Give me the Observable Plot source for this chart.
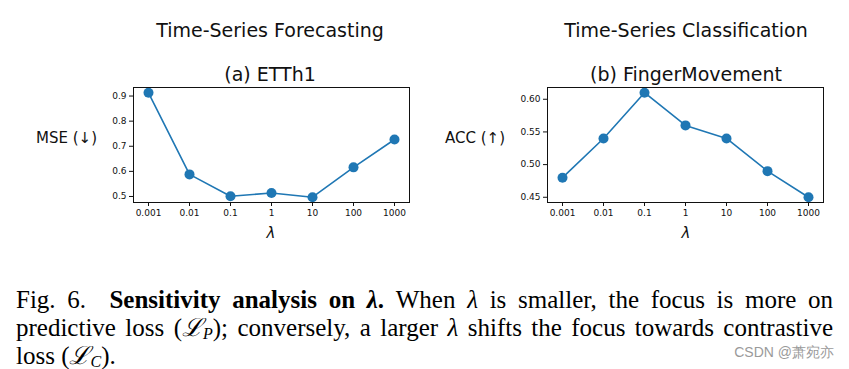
<!DOCTYPE html>
<html>
<head>
<meta charset="utf-8">
<script src="https://cdn.jsdelivr.net/npm/d3@7"></script>
<script src="https://cdn.jsdelivr.net/npm/@observablehq/plot@0.6"></script>
<style>
  html, body { margin: 0; padding: 0; background: #fff; }
  body { width: 849px; height: 369px; position: relative; overflow: hidden; font-family: "DejaVu Sans", sans-serif; }
  .abs { position: absolute; white-space: nowrap; color: #111; }
  .title { font-size: 19px; transform: translate(-50%, -50%); }
  .ylab { font-size: 15px; transform: translateY(-50%); }
  .xlab { font-size: 15px; font-style: italic; transform: translate(-50%, -50%); }
  .panel { position: absolute; }
  .caption { position: absolute; left: 16px; width: 817px; top: 286px; font-family: "Liberation Serif", "Times New Roman", serif; font-size: 25px; line-height: 28px; color: #000; }
  .caption .ln { white-space: nowrap; text-align: justify; text-align-last: justify; height: 28px; }
  .caption .ln.last { text-align-last: left; }
  .cal { font-family: "DejaVu Serif", "Liberation Serif", serif; font-style: italic; }
  .sub { font-size: 16px; font-style: italic; position: relative; top: 3px; line-height: 0; }
  .wm { position: absolute; right: 15px; top: 344px; font-family: "Liberation Sans", Arial, sans-serif; font-size: 14px; color: #9a9a9a; white-space: nowrap; }
</style>
</head>
<body>
<script>
// ---- data ----
const lambdaLabels = ["0.001", "0.01", "0.1", "1", "10", "100", "1000"];
const mseETTh1 = [0.913, 0.588, 0.501, 0.514, 0.497, 0.616, 0.727];
const accFingerMovement = [0.48, 0.54, 0.61, 0.56, 0.54, 0.49, 0.45];
const mseTicks = [0.5, 0.6, 0.7, 0.8, 0.9];
const accTicks = [0.45, 0.50, 0.55, 0.60];

const blue = "#1f77b4";

function makePanel(values, yDomain, yTicks, yFmt) {
  const data = lambdaLabels.map((l, i) => ({lam: l, v: values[i]}));
  return Plot.plot({
    width: 320,
    height: 170,
    marginLeft: 33,
    marginRight: 11,
    marginTop: 7,
    marginBottom: 48,
    style: {fontFamily: "DejaVu Sans, sans-serif", fontSize: "9px", color: "#111", background: "transparent", overflow: "visible"},
    x: {type: "point", domain: lambdaLabels, padding: 0.286, label: null, tickSize: 4, tickPadding: 3},
    y: {domain: yDomain, ticks: yTicks, tickFormat: yFmt, label: null, tickSize: 4, tickPadding: 3},
    marks: [
      Plot.line(data, {x: "lam", y: "v", stroke: blue, strokeWidth: 1.6}),
      Plot.dot(data, {x: "lam", y: "v", r: 5, fill: blue, stroke: "none"}),
      Plot.frame({stroke: "#111", strokeWidth: 1})
    ]
  });
}

function place(el, left, top) {
  el.classList.add("panel");
  el.style.left = left + "px";
  el.style.top = top + "px";
  document.body.appendChild(el);
}

place(makePanel(mseETTh1, [0.476, 0.934], mseTicks, d3.format(".1f")), 100, 80);
place(makePanel(accFingerMovement, [0.442, 0.618], accTicks, d3.format(".2f")), 514, 80);

function addText(cls, text, x, y) {
  const d = document.createElement("div");
  d.className = "abs " + cls;
  d.textContent = text;
  d.style.left = x + "px";
  d.style.top = y + "px";
  document.body.appendChild(d);
}

addText("title", "Time-Series Forecasting", 270, 30);
addText("title", "(a) ETTh1", 270, 74);
addText("ylab", "MSE (↓)", 36, 138);
addText("xlab", "λ", 271, 233);

addText("title", "Time-Series Classification", 686, 30);
addText("title", "(b) FingerMovement", 686, 74);
addText("ylab", "ACC (↑)", 445, 138);
addText("xlab", "λ", 686, 233);

const cap = document.createElement("div");
cap.className = "caption";
cap.innerHTML =
  '<div class="ln">Fig. 6.&nbsp; <b>Sensitivity analysis on <i>λ</i>.</b> When <i>λ</i> is smaller, the focus is more on</div>' +
  '<div class="ln">predictive loss (<span class="cal">ℒ</span><span class="sub">P</span>); conversely, a larger <i>λ</i> shifts the focus towards contrastive</div>' +
  '<div class="ln last">loss (<span class="cal">ℒ</span><span class="sub">C</span>).</div>';
document.body.appendChild(cap);

const wm = document.createElement("div");
wm.className = "wm";
wm.textContent = "CSDN @萧宛亦";
document.body.appendChild(wm);
</script>
</body>
</html>
